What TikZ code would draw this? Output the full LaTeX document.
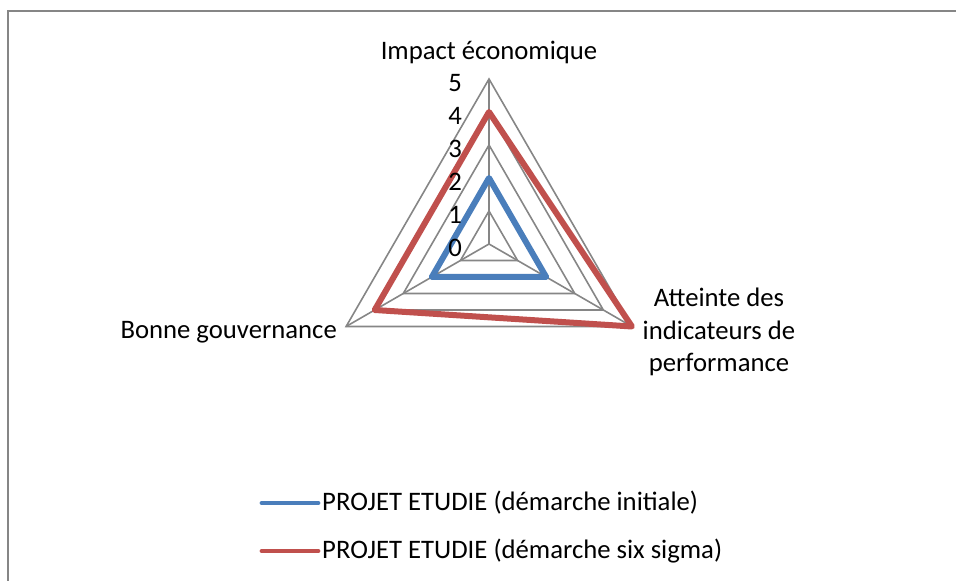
\documentclass[tikz,border=0pt]{standalone}
\usepackage{fontspec}
\setmainfont{Carlito}
\usepackage{xcolor}
\definecolor{gridgray}{RGB}{134,134,134}
\definecolor{seriesblue}{RGB}{74,126,187}
\definecolor{seriesred}{RGB}{192,80,77}

\begin{document}
\begin{tikzpicture}[x=1pt, y=1pt,
    gridline/.style={draw=gridgray, line width=1.6pt},
    serie/.style={line width=6pt, line join=round, line cap=round},
    lbl/.style={font=\fontsize{26.7}{32.5}\selectfont, inner sep=0pt}]

    \useasboundingbox (0, 0) rectangle (956, 581);

    \coordinate (fa) at (8, 0);
    \coordinate (fb) at (956, 570);
    \draw [gridline, line width=2pt] (fa) |- (fb);

    \begin{scope}[shift={(489, 337)}]
    \draw [gridline] (90:33) -- (-30:33) -- (210:33) -- cycle;
    \draw [gridline] (90:66) -- (-30:66) -- (210:66) -- cycle;
    \draw [gridline] (90:99) -- (-30:99) -- (210:99) -- cycle;
    \draw [gridline] (90:132) -- (-30:132) -- (210:132) -- cycle;
    \draw [gridline] (90:165) -- (-30:165) -- (210:165) -- cycle;
    \draw [gridline] (0, 0) -- (90:165);
    \draw [gridline] (0, 0) -- (-30:165);
    \draw [gridline] (0, 0) -- (210:165);

    \draw [serie, draw=seriesblue] (90:66) -- (-30:66) -- (210:66) -- cycle;
    \draw [serie, draw=seriesred] (90:132) -- (-30:165) -- (210:132) -- cycle;

    \node [lbl, anchor=east] (v0) at (-27, -4) {0};
    \node [lbl, anchor=east] (v1) at (-27, 29) {1};
    \node [lbl, anchor=east] (v2) at (-27, 62) {2};
    \node [lbl, anchor=east] (v3) at (-27, 95) {3};
    \node [lbl, anchor=east] (v4) at (-27, 128) {4};
    \node [lbl, anchor=east] (v5) at (-27, 161) {5};
    \end{scope}

    \node [lbl] (impact) at (489, 529) {Impact économique};
    \node [lbl, anchor=east] (gouv) at (337, 249) {Bonne gouvernance};
    \node [lbl, align=center] (atteinte) at (719, 249) {Atteinte des\\indicateurs de\\performance};

    \coordinate (la) at (262, 78);
    \coordinate (lb) at (318, 78);
    \coordinate (lc) at (262, 30);
    \coordinate (ld) at (318, 30);
    \draw [serie, line width=4.8pt, draw=seriesblue] (la) -- (lb);
    \draw [serie, line width=4.8pt, draw=seriesred] (lc) -- (ld);
    \node [lbl, anchor=west] (initiale) at (322, 78) {PROJET ETUDIE (démarche initiale)};
    \node [lbl, anchor=west] (sigma) at (322, 30) {PROJET ETUDIE (démarche six sigma)};

\end{tikzpicture}
\end{document}
